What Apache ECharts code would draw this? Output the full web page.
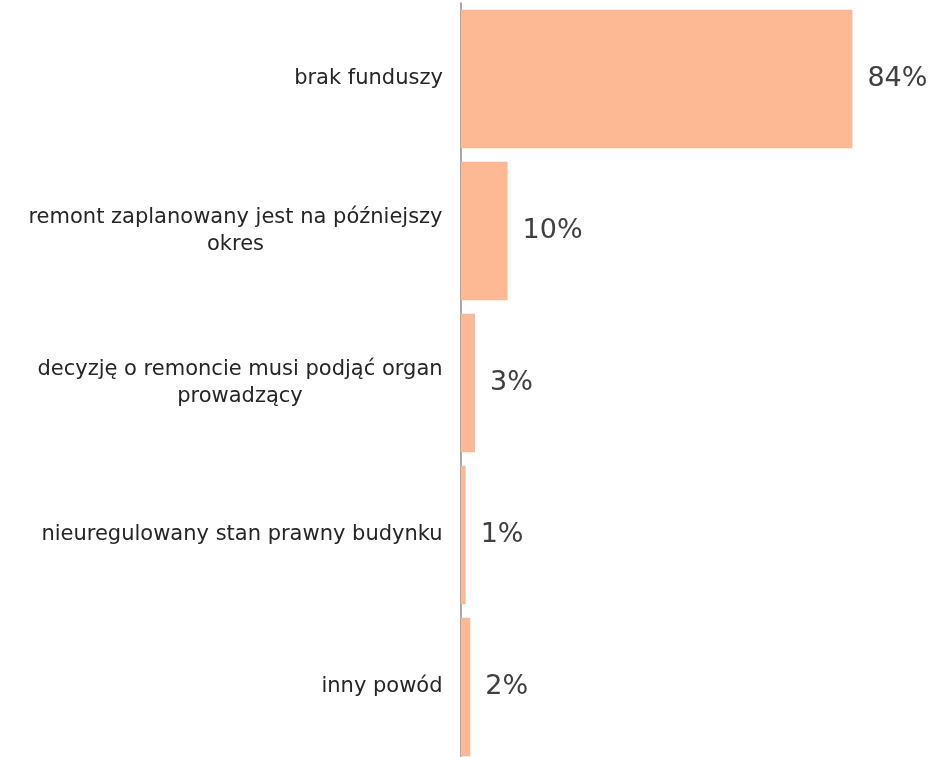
<!DOCTYPE html>
<html><head><meta charset="utf-8">
<script src="https://cdn.jsdelivr.net/npm/echarts@6/dist/echarts.min.js"></script>
<style>html,body{margin:0;padding:0;background:#fff;overflow:hidden}#c{width:944px;height:763px}</style>
</head><body><div id="c"></div>
<script>
const categories = [
  'brak funduszy',
  'remont zaplanowany jest na późniejszy\nokres',
  'decyzję o remoncie musi podjąć organ\nprowadzący',
  'nieuregulowany stan prawny budynku',
  'inny powód'
];
const values = [84, 10, 3, 1, 2];

const CAT_SIZE = 21;
const ctx = document.createElement('canvas').getContext('2d');
ctx.font = CAT_SIZE + 'px "DejaVu Sans"';

const rich = {};
categories.forEach((v, i) => {
  const lines = v.split('\n');
  const w = Math.ceil(Math.max(...lines.map(l => ctx.measureText(l).width)));
  rich['c' + i] = { width: w, align: 'center', fontFamily: 'DejaVu Sans', fontSize: CAT_SIZE, lineHeight: 27, color: '#262626' };
});
const fmt = function (v) {
  const i = categories.indexOf(v);
  return v.split('\n').map(l => '{c' + i + '|' + l + '}').join('\n');
};

const chart = echarts.init(document.getElementById('c'));
chart.setOption({
  animation: false,
  grid: { left: 461, right: 17, top: 3, bottom: 0, containLabel: false },
  xAxis: { type: 'value', min: 0, max: 100, show: false },
  yAxis: {
    type: 'category', inverse: true, data: categories,
    axisLine: { show: true, lineStyle: { color: '#8c8c8c', width: 1.5 } },
    axisTick: { show: false },
    axisLabel: { margin: 18, formatter: fmt, rich: rich, fontFamily: 'DejaVu Sans', fontSize: CAT_SIZE, color: '#262626' }
  },
  series: [{
    type: 'bar', data: values, barCategoryGap: '9%',
    itemStyle: { color: '#FDB894' },
    label: {
      show: true, position: 'right', distance: 15, formatter: '{c}%',
      color: '#404040', fontFamily: 'DejaVu Sans', fontSize: 27
    }
  }]
});
</script></body></html>
